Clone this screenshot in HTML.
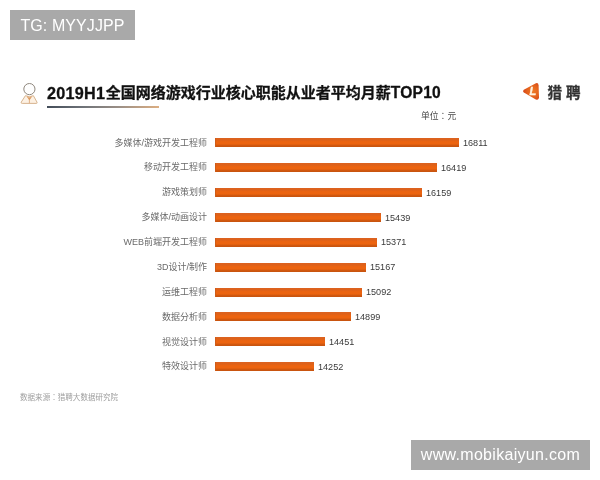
<!DOCTYPE html>
<html lang="zh">
<head>
<meta charset="utf-8">
<title>2019H1全国网络游戏行业核心职能从业者平均月薪TOP10</title>
<style>
html,body{margin:0;padding:0;}
body{width:600px;height:480px;background:#fff;position:relative;overflow:hidden;
 font-family:"Liberation Sans","Noto Sans CJK SC",sans-serif;}
.abs{position:absolute;white-space:nowrap;}
.wm{position:absolute;background:#a9a9a9;color:#fff;font-size:16px;line-height:30px;height:30px;text-align:center;white-space:nowrap;}
#wm1{left:10px;top:10px;width:125px;line-height:31.4px;letter-spacing:0.1px;}
#wm2{left:411px;top:440px;width:179px;letter-spacing:0.31px;}
#title{left:47px;top:81.5px;font-size:15px;font-weight:bold;color:#111;-webkit-text-stroke:0.3px #111;line-height:22px;height:22px;}
#title .l1{font-size:16.2px;letter-spacing:0.25px;margin-right:0.6px;}
#title .l2{font-size:15.6px;letter-spacing:0.2px;position:relative;top:-0.6px;}
#uline{left:47px;top:106px;width:111.5px;height:1.7px;background:linear-gradient(90deg,#434d59 0%,#6e7278 32%,#9a8f86 64%,#dcae82 100%);}
#title .cj{position:relative;top:-0.8px;}
#unit{left:421px;top:110.3px;font-size:8.8px;line-height:12px;color:#4a4a4a;}
#brand{left:547.5px;top:81.6px;font-size:14.5px;line-height:22px;font-weight:bold;color:#333;letter-spacing:4px;-webkit-text-stroke:0.3px #333;}
#src{left:20px;top:391.6px;font-size:7.55px;line-height:11px;color:#a0a0a0;}
.tc{font-family:"Liberation Sans","Noto Sans CJK TC",sans-serif;}
.lab{position:absolute;right:393px;font-size:9px;line-height:12px;height:12px;color:#6a6a6a;white-space:nowrap;text-align:right;}
.bar{position:absolute;left:215px;height:9px;box-sizing:border-box;border-left:1px solid #cf5c18;background:linear-gradient(180deg,#dc6220 0%,#dd611a 22%,#ec6410 42%,#ec6410 66%,#d1580f 82%,#c6530f 100%);}
.val{position:absolute;font-size:9.1px;line-height:12px;height:12px;color:#3a3a3a;white-space:nowrap;}
.lab,.val,#unit,#src{filter:blur(0.35px);}
#title,#brand,#icon,#logo{filter:blur(0.4px);}
.bar{filter:blur(0.3px);}
</style>
</head>
<body>
<div class="wm" id="wm1">TG: MYYJJPP</div>

<svg class="abs" id="icon" style="left:14px;top:78px" width="30" height="30" viewBox="0 0 30 30">
  <path d="M11.4 17.7 L7.2 24.2 Q6.8 25.4 8.2 25.4 L22.2 25.4 Q23.6 25.4 23 24.2 L19.4 17.7 Q15.4 19.6 11.4 17.7 Z" fill="#fdf1e3" stroke="#d3ad85" stroke-width="0.9" stroke-linejoin="round"/>
  <path d="M15.4 19 L15.4 25.2" stroke="#dcaa7c" stroke-width="0.9" fill="none"/>
  <path d="M13.3 18.5 L15.4 21.4 L17.5 18.5" stroke="#dc9a60" stroke-width="1.1" fill="none" stroke-linejoin="round"/>
  <circle cx="15.4" cy="11.1" r="5.6" fill="#fefefe" stroke="#8e867c" stroke-width="1"/>
</svg>

<div class="abs" id="title"><span class="l1">2019H1</span><span class="cj">全国网络游戏行业核心职能从业者平均月薪</span><span class="l2">TOP10</span></div>
<div class="abs" id="uline"></div>

<svg class="abs" id="logo" style="left:516px;top:76px" width="30" height="30" viewBox="0 0 30 30">
  <defs><radialGradient id="lg" cx="0.62" cy="0.5" r="0.6"><stop offset="0" stop-color="#ee7a26"/><stop offset="0.6" stop-color="#e5621c"/><stop offset="1" stop-color="#d4481a"/></radialGradient></defs>
  <path d="M7.8 13.8 L19.4 7.4 Q22.4 6.2 22.6 9.4 L23 21.6 Q22.8 24.6 19.8 23.4 L7.9 16.6 Q6.4 15.2 7.8 13.8 Z" fill="url(#lg)"/>
  <text x="13.6" y="19.2" font-family="Liberation Sans, sans-serif" font-size="11" font-weight="bold" font-style="italic" fill="#fff3e2" stroke="#fff3e2" stroke-width="0.4">L</text>
</svg>
<div class="abs" id="brand">猎聘</div>

<div class="abs" id="unit">单位<span class="tc" lang="zh-Hant">：</span>元</div>

<div class="lab" style="top:136.5px">多媒体/游戏开发工程师</div>
<div class="bar" style="top:138.2px;width:244.2px"></div>
<div class="val" style="left:463px;top:136.8px">16811</div>

<div class="lab" style="top:161.3px">移动开发工程师</div>
<div class="bar" style="top:163.0px;width:221.7px"></div>
<div class="val" style="left:441px;top:161.6px">16419</div>

<div class="lab" style="top:186.2px">游戏策划师</div>
<div class="bar" style="top:187.9px;width:207px"></div>
<div class="val" style="left:426px;top:186.5px">16159</div>

<div class="lab" style="top:211.2px">多媒体/动画设计</div>
<div class="bar" style="top:212.9px;width:166.2px"></div>
<div class="val" style="left:385px;top:211.5px">15439</div>

<div class="lab" style="top:236.0px">WEB前端开发工程师</div>
<div class="bar" style="top:237.8px;width:162px"></div>
<div class="val" style="left:381px;top:236.3px">15371</div>

<div class="lab" style="top:260.9px">3D设计/制作</div>
<div class="bar" style="top:262.6px;width:150.8px"></div>
<div class="val" style="left:370px;top:261.2px">15167</div>

<div class="lab" style="top:285.7px">运维工程师</div>
<div class="bar" style="top:287.5px;width:146.7px"></div>
<div class="val" style="left:366px;top:286.0px">15092</div>

<div class="lab" style="top:310.5px">数据分析师</div>
<div class="bar" style="top:312.3px;width:135.8px"></div>
<div class="val" style="left:355px;top:310.8px">14899</div>

<div class="lab" style="top:335.6px">视觉设计师</div>
<div class="bar" style="top:337.3px;width:110.2px"></div>
<div class="val" style="left:329px;top:335.9px">14451</div>

<div class="lab" style="top:360.4px">特效设计师</div>
<div class="bar" style="top:362.1px;width:98.8px"></div>
<div class="val" style="left:318px;top:360.7px">14252</div>

<div class="abs" id="src">数据来源<span class="tc" lang="zh-Hant">：</span>猎聘大数据研究院</div>

<div class="wm" id="wm2">www.mobikaiyun.com</div>
</body>
</html>
